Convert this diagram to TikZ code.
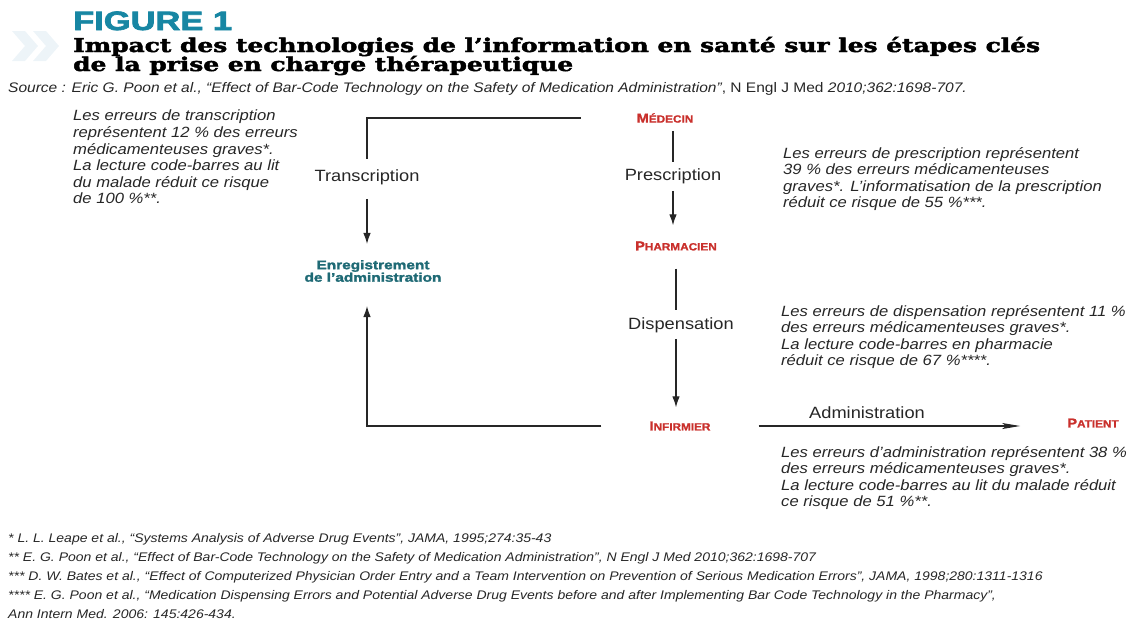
\documentclass[tikz,border=0pt]{standalone}
\usepackage{fontspec}
\setmainfont{Liberation Sans}[FakeStretch=1.12]
\newfontfamily\slabfont{DejaVu Serif}[FakeBold=2]
\newfontfamily\blackfont{Liberation Sans}[FakeBold=2.5]
\newfontfamily\labelfont{Liberation Sans}[FakeStretch=1.12,FakeBold=1.2]
\newfontfamily\regfont{Liberation Sans}[FakeStretch=1.12,FakeBold=1.8]
\usetikzlibrary{arrows.meta}

\definecolor{figteal}{HTML}{1786A3}
\definecolor{regteal}{HTML}{1F6A75}
\definecolor{actorred}{HTML}{C9302C}
\definecolor{ink}{HTML}{262626}
\definecolor{chevron}{HTML}{EDF4F8}

% small-capital labels: large initial, smaller remaining capitals
\newcommand\smcap[2]{{\fontsize{13}{13}\selectfont #1}{\fontsize{10.5}{10.5}\selectfont #2}}
\newsavebox\titleA
\newsavebox\titleB

\tikzset{
  actor/.style={text=actorred, font=\labelfont\bfseries, inner sep=2pt},
  stage/.style={text=ink, font=\fontsize{16.3}{18}\selectfont, inner sep=2pt},
  note/.style={text=ink, align=left, anchor=north west, inner sep=0pt,
               font=\itshape\fontsize{14.85}{16.6}\selectfont},
  link/.style={draw=ink, line width=1.1pt},
  flow/.style={link, -{Latex[length=11pt,width=7.5pt]}},
  longflow/.style={link, -{Stealth[length=18pt,width=6pt,inset=4pt]}},
}

\begin{document}
\sbox\titleA{\slabfont\bfseries\fontsize{19}{19}\selectfont Impact des technologies de l’information en santé sur les étapes clés}%
\sbox\titleB{\slabfont\bfseries\fontsize{19}{19}\selectfont de la prise en charge thérapeutique}%
\pgfmathsetmacro\titlescale{967/\the\wd\titleA}%
\begin{tikzpicture}[x=1pt,y=-1pt]
\useasboundingbox (0,0) rectangle (1132,619);

% heading
\fill[chevron] (12,31) -- (25,31) -- (38,46) -- (25,61) -- (12,61) -- (25,46) -- cycle;
\fill[chevron] (33,31) -- (46,31) -- (59,46) -- (46,61) -- (33,61) -- (46,46) -- cycle;

\node[anchor=base west, inner sep=0pt, text=figteal] (figlabel) at (73,30)
  {\scalebox{1.3}[1]{\blackfont\bfseries\fontsize{26.5}{26.5}\selectfont FIGURE 1}};
\node[anchor=base west, inner sep=0pt, text=ink] (titleone) at (73,52)
  {\scalebox{\titlescale}[1]{\usebox\titleA}};
\node[anchor=base west, inner sep=0pt, text=ink] (titletwo) at (73,71)
  {\scalebox{\titlescale}[1]{\usebox\titleB}};
\node[anchor=base west, inner sep=0pt, text=ink] (source) at (8,92)
  {\fontsize{13.85}{13.85}\selectfont\itshape Source : Eric G. Poon et al., “Effect of Bar-Code Technology on the Safety of Medication Administration”{\upshape, N Engl J Med} 2010;362:1698-707.};

% actors and stages
\node[actor] (medecin) at (665,118) {\smcap{M}{ÉDECIN}};
\node[stage] (prescription) at (673,176) {Prescription};
\node[actor] (pharmacien) at (676,246) {\smcap{P}{HARMACIEN}};
\node[stage] (dispensation) at (681,325) {Dispensation};
\node[actor] (infirmier) at (680,426) {\smcap{I}{NFIRMIER}};
\node[actor] (patient) at (1093,423) {\smcap{P}{ATIENT}};
\node[stage] (administration) at (867,413) {Administration};
\node[stage] (transcription) at (367,177) {Transcription};
\node[text=regteal, align=center, inner sep=2pt,
      font=\regfont\bfseries\fontsize{12.5}{12.5}\selectfont] (enreg) at (373,271)
  {\scalebox{1.1}[1]{Enregistrement}\\\scalebox{1.1}[1]{de l’administration}};

% main chain
\draw[link, shorten <=6pt, shorten >=4pt] (prescription.north |- medecin.south) -- (prescription.north);
\draw[flow, shorten <=5pt, shorten >=14pt] (prescription.south) -- (prescription.south |- pharmacien.north);
\draw[link, shorten <=16pt, shorten >=5pt] (pharmacien.south) -- (pharmacien.south |- dispensation.north);
\draw[flow, shorten <=4pt, shorten >=12pt] (pharmacien.south |- dispensation.south) -- (pharmacien.south |- infirmier.north);
\draw[longflow, shorten <=46pt, shorten >=45pt] (infirmier.east) -- (infirmier.east -| patient.west);

% transcription loop
\draw[link, shorten <=54pt, shorten >=8pt] (medecin.west) -| (transcription.north);
\draw[flow, shorten <=12pt, shorten >=14pt] (transcription.south) -- (transcription.south |- enreg.north);
\draw[flow, shorten <=46pt, shorten >=22pt] (infirmier.west) -| (transcription.south |- enreg.south);

% commentary
\node[note] (notetranscription) at (73,110)
  {Les erreurs de transcription\\
   représentent 12 \% des erreurs\\
   médicamenteuses graves*.\\
   La lecture code-barres au lit\\
   du malade réduit ce risque\\
   de 100 \%**.};
\node[note] (noteprescription) at (783,147)
  {Les erreurs de prescription représentent\\
   39 \% des erreurs médicamenteuses\\
   graves*. L’informatisation de la prescription\\
   réduit ce risque de 55 \%***.};
\node[note] (notedispensation) at (781,305)
  {Les erreurs de dispensation représentent 11 \%\\
   des erreurs médicamenteuses graves*.\\
   La lecture code-barres en pharmacie\\
   réduit ce risque de 67 \%****.};
\node[note] (noteadministration) at (781,446)
  {Les erreurs d’administration représentent 38 \%\\
   des erreurs médicamenteuses graves*.\\
   La lecture code-barres au lit du malade réduit\\
   ce risque de 51 \%**.};

% references
\node[note, font=\itshape\fontsize{12.5}{19}\selectfont] (references) at (8,533)
  {* L. L. Leape et al., “Systems Analysis of Adverse Drug Events”, JAMA, 1995;274:35-43\\
   ** E. G. Poon et al., “Effect of Bar-Code Technology on the Safety of Medication Administration”, N Engl J Med 2010;362:1698-707\\
   *** D. W. Bates et al., “Effect of Computerized Physician Order Entry and a Team Intervention on Prevention of Serious Medication Errors”, JAMA, 1998;280:1311-1316\\
   **** E. G. Poon et al., “Medication Dispensing Errors and Potential Adverse Drug Events before and after Implementing Bar Code Technology in the Pharmacy”,\\
   Ann Intern Med. 2006: 145:426-434.};
\end{tikzpicture}
\end{document}
